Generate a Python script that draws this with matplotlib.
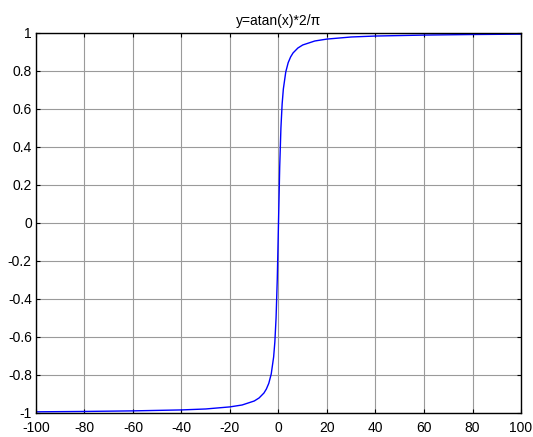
import matplotlib.pyplot as plt

# points
x_vals = [-100, -80, -60, -40, -30, -20, -15, -10, -8, -6, -5, -4, -3, -2, -1.5, -1, -0.5,
          0, 0.5, 1, 1.5, 2, 3, 4, 5, 6, 8, 10, 15, 20, 30, 40, 60, 80, 100]
y_vals = [-0.994, -0.992, -0.989, -0.984, -0.979, -0.968, -0.958, -0.937, -0.921, -0.895,
          -0.874, -0.844, -0.795, -0.705, -0.626, -0.5, -0.295,
          0.0, 0.295, 0.5, 0.626, 0.705, 0.795, 0.844, 0.874, 0.895, 0.921, 0.937,
          0.958, 0.968, 0.979, 0.984, 0.989, 0.992, 0.994]
x_ticks = [-100, -80, -60, -40, -20, 0, 20, 40, 60, 80, 100]
y_ticks = [-1, -0.8, -0.6, -0.4, -0.2, 0, 0.2, 0.4, 0.6, 0.8, 1]

plt.rcParams['font.family'] = ['Liberation Sans', 'DejaVu Sans']
plt.rcParams['axes.unicode_minus'] = False

fig = plt.figure(figsize=(5.33, 4.37), dpi=100)
ax = fig.add_axes([0.0675, 0.055, 0.91, 0.8695])
ax.plot(x_vals, y_vals, color="blue", linewidth=1)
ax.set_xlim(-100, 100)
ax.set_ylim(-1, 1)
ax.set_xticks(x_ticks)
ax.set_yticks(y_ticks)
ax.set_xticklabels([f"{v:g}" for v in x_ticks])
ax.set_yticklabels([f"{v:g}" for v in y_ticks])
ax.tick_params(direction="in", length=3, labelsize=10, top=True, right=True)
ax.tick_params(axis="x", pad=6)
ax.tick_params(axis="y", pad=3)
ax.grid(True, color="#9a9a9a", linestyle="-", linewidth=0.8)
for s in ax.spines.values():
    s.set_linewidth(1)
ax.set_title("y=atan(x)*2/\u03c0", fontsize=10, pad=6)

fig.savefig("out.png", dpi=100)
